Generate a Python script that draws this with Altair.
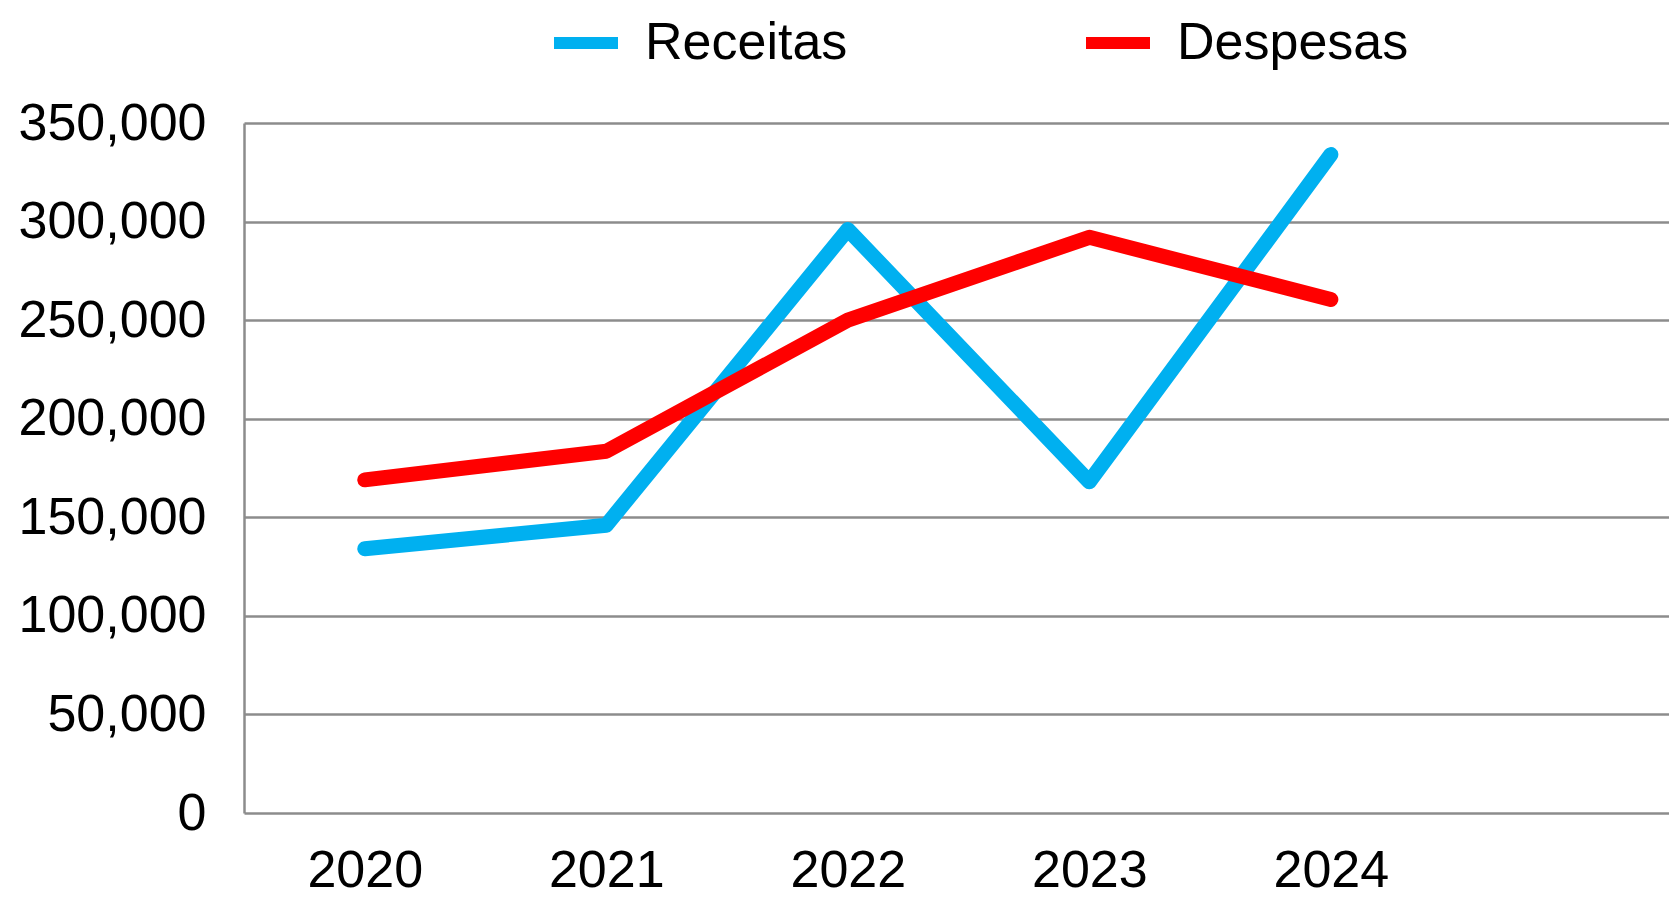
import altair as alt
import pandas as pd

years = [2020, 2021, 2022, 2023, 2024]
receitas = [134000, 146000, 296000, 168000, 334000]
despesas = [169000, 183500, 250000, 292000, 260500]
series_names = ["Receitas", "Despesas"]
series_colors = ["#00B0F0", "#FF0000"]
y_ticks = [0, 50000, 100000, 150000, 200000, 250000, 300000, 350000]

rows = []
for name, vals in zip(series_names, [receitas, despesas]):
    for yr, v in zip(years, vals):
        rows.append({"year": yr, "value": v, "serie": name})
df = pd.DataFrame(rows)

FONT = "Liberation Sans, Arial"

x = alt.X(
    "year:Q",
    scale=alt.Scale(domain=[2019.5, 2025.4], nice=False, zero=False),
    axis=alt.Axis(
        values=years, format="d", grid=False, ticks=False, domain=False,
        labelFontSize=52, labelPadding=73, labelBaseline="alphabetic",
        labelFlush=False, labelOverlap=False, labelLimit=400,
        labelColor="#000000", title=None,
    ),
)
y = alt.Y(
    "value:Q",
    scale=alt.Scale(domain=[0, 350000], nice=False),
    axis=alt.Axis(
        values=y_ticks, format=",d", grid=True, gridColor="#8C8C8C", gridWidth=2.5,
        domain=True, domainColor="#8C8C8C", domainWidth=2.5, ticks=False,
        labelFontSize=52, labelPadding=38, labelLimit=400,
        labelColor="#000000", title=None,
    ),
)
color = alt.Color(
    "serie:N",
    scale=alt.Scale(domain=series_names, range=series_colors),
    legend=alt.Legend(
        orient="none", direction="horizontal", legendX=304, legendY=-118,
        title=None, symbolType="stroke", symbolSize=4096, symbolStrokeWidth=12,
        labelFontSize=52, labelOffset=21, columnPadding=214, labelColor="#000000",
        labelLimit=600, padding=0,
    ),
)

base = alt.Chart(df).mark_line(strokeWidth=15, strokeCap="round", strokeJoin="round").encode(
    x=x, y=y, color=color
)
chart = alt.layer(
    base.transform_filter(alt.datum.serie == "Receitas"),
    base.transform_filter(alt.datum.serie == "Despesas"),
).properties(
    width=1425, height=690,
    autosize=alt.AutoSizeParams(type="none"),
    padding={"left": 236, "top": 115, "right": 0, "bottom": 83},
    background="#FFFFFF",
).configure(font=FONT).configure_view(stroke=None)

chart.save("out.html", embed_options={"renderer": "svg", "actions": False})
